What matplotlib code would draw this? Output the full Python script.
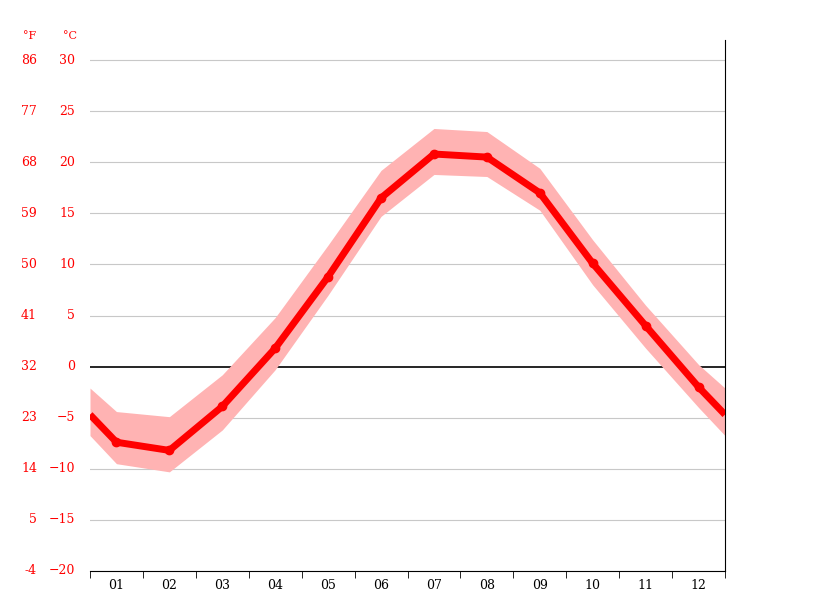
import matplotlib
matplotlib.use("Agg")
import matplotlib.pyplot as plt
import matplotlib.transforms as mt
import numpy as np

months = ["01","02","03","04","05","06","07","08","09","10","11","12"]
temp = [-7.4,-8.2,-3.9,1.8,8.8,16.5,20.8,20.5,17.0,10.1,4.0,-2.0]
upper = [-4.4,-4.9,-0.8,4.8,11.9,19.2,23.3,23.0,19.4,12.4,6.0,0.2]
lower = [-9.5,-10.3,-6.2,-0.3,7.0,14.7,18.8,18.6,15.3,8.0,1.8,-4.0]
c_ticks = [30,25,20,15,10,5,0,-5,-10,-15,-20]

def wrap(v):
    e = (v[0] + v[-1]) / 2
    return [e] + list(v) + [e]

x = np.arange(1, 13)
xx = np.concatenate([[0.5], x, [12.5]])

fig = plt.figure(figsize=(8.15, 6.11), dpi=100)
ax = fig.add_axes([90/815, 1-571/611, 635/815, 531/611])
ax.set_xlim(0.5, 12.5)
ax.set_ylim(-20, 30 + 20/511*50)

for c in c_ticks:
    if c != 0:
        ax.axhline(c, color="#c8c8c8", lw=0.8, zorder=0)
ax.axhline(0, color="black", lw=1.2, zorder=1)

ax.fill_between(xx, wrap(lower), wrap(upper), color="#ffb3b3", lw=0, zorder=2)
ax.plot(xx, wrap(temp), color="#ff0000", lw=5, zorder=3, solid_capstyle="butt")
ax.plot(x, temp, "o", color="#ff0000", ms=6, zorder=4)

for s in ["left", "top"]:
    ax.spines[s].set_visible(False)
ax.spines["right"].set_color("black")
ax.spines["bottom"].set_color("black")

ax.set_xticks(x)
ax.set_xticklabels(months, fontsize=9, family="DejaVu Serif")
ax.tick_params(axis="x", which="major", length=0, pad=6)
ax.set_xticks(np.arange(0.5, 13, 1), minor=True)
ax.tick_params(axis="x", which="minor", length=5, direction="out")
ax.set_yticks([])

tr = mt.blended_transform_factory(fig.transFigure, ax.transData)
for c in c_ticks:
    f = round(c * 9 / 5 + 32)
    ax.text(75/815, c, str(c).replace("-", "−"), transform=tr, ha="right", va="center",
            color="red", fontsize=9, family="DejaVu Serif")
    ax.text(37/815, c, str(f), transform=tr, ha="right", va="center",
            color="red", fontsize=9, family="DejaVu Serif")
fig.text(30/815, 1-36/611, "°F", ha="center", va="center", color="red", fontsize=8, family="DejaVu Serif")
fig.text(70/815, 1-36/611, "°C", ha="center", va="center", color="red", fontsize=8, family="DejaVu Serif")

fig.savefig("out.png", dpi=100)
